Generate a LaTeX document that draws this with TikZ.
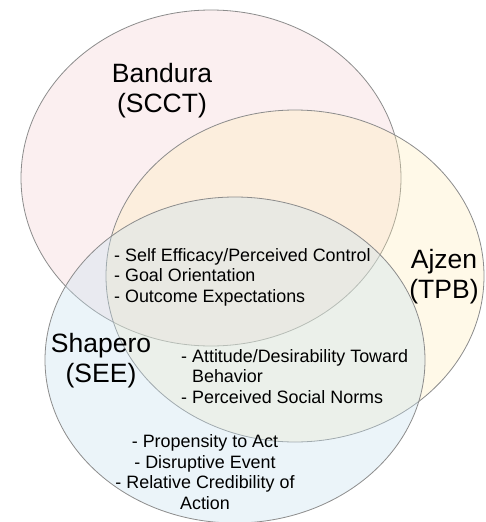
\documentclass[tikz,border=0pt]{standalone}
\usepackage{fontspec}
\setmainfont{Liberation Sans}
\begin{document}
\begin{tikzpicture}[x=1pt,y=-1pt,
  venn/.style={draw=black!45,line width=0.8pt},
  head/.style={font=\fontsize{26.5}{30}\selectfont,align=center,inner sep=0pt,anchor=base},
  items/.style={font=\fontsize{17.9}{20.5}\selectfont,inner sep=0pt}]
\useasboundingbox (0,0) rectangle (485,522);
\definecolor{bpink}{RGB}{244,204,206}
\definecolor{acream}{RGB}{255,238,180}
\definecolor{sblue}{RGB}{200,226,240}
\fill[white] (0,0) rectangle (485,522);
\path[venn,fill=bpink,fill opacity=0.3] (211,178) ellipse [x radius=190,y radius=168];
\path[venn,fill=acream,fill opacity=0.3] (295,276) ellipse [x radius=189,y radius=166];
\path[venn,fill=sblue,fill opacity=0.35] (235,360) ellipse [x radius=190,y radius=163];
\node[head] (bandura) at (162,112) {Bandura\\(SCCT)};
\node[head] (ajzen) at (444,298) {Ajzen\\(TPB)};
\node[head] (shapero) at (101,382) {Shapero\\(SEE)};
\node[items,align=left,anchor=base west] (common) at (114,302) {- Self Efficacy/Perceived Control\\- Goal Orientation\\- Outcome Expectations};
\node[items,align=left,anchor=base west] (tpbsee) at (181,403) {- Attitude/Desirability Toward\\\hphantom{- }Behavior\\- Perceived Social Norms};
\node[items,align=center,anchor=base] (see) at (205,509) {- Propensity to Act\\- Disruptive Event\\- Relative Credibility of\\Action};
\end{tikzpicture}
\end{document}
